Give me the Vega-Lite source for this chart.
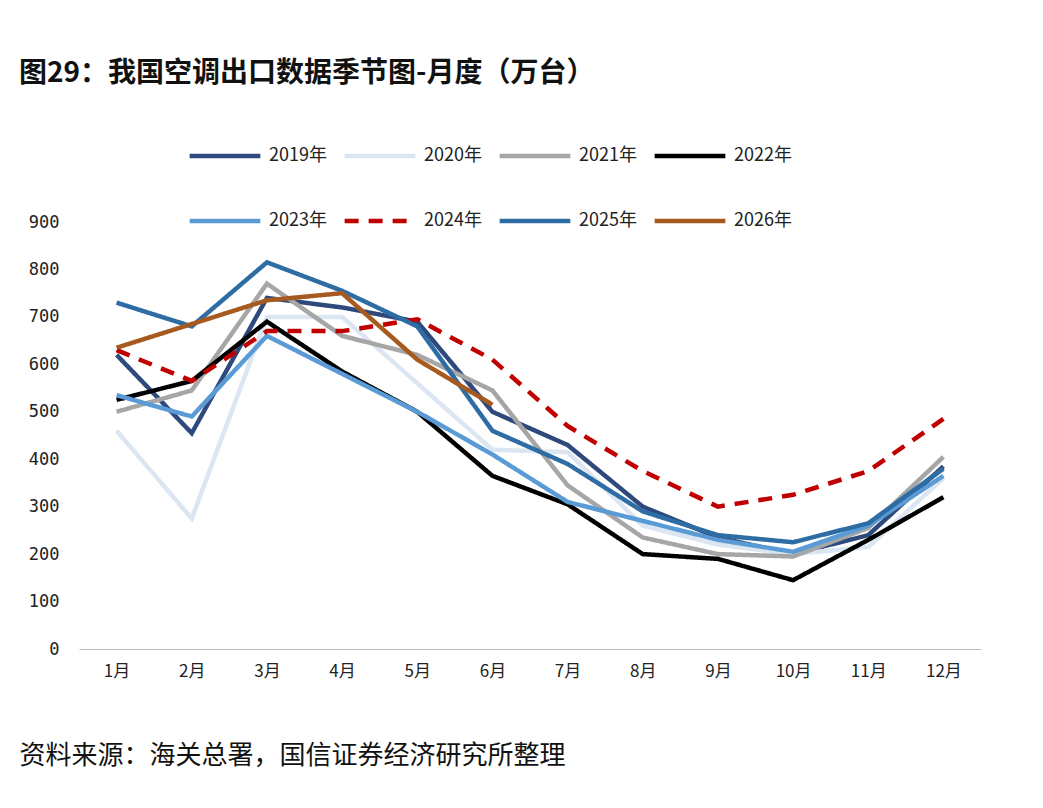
{
  "$schema": "https://vega.github.io/schema/vega-lite/v6.json",
  "autosize": "none",
  "padding": {"left": 79, "top": 222, "right": 62, "bottom": 159},
  "width": 902,
  "height": 427,
  "background": "white",
  "title": {
    "text": "图29：我国空调出口数据季节图-月度（万台）",
    "anchor": "start",
    "frame": "group",
    "dx": -60,
    "offset": 30,
    "fontSize": 28,
    "fontWeight": "bold",
    "font": "Noto Sans CJK SC",
    "color": "#111"
  },
  "data": {
    "values": [
      {"m": "1月", "s": "2019年", "v": 620}, {"m": "2月", "s": "2019年", "v": 455}, {"m": "3月", "s": "2019年", "v": 740}, {"m": "4月", "s": "2019年", "v": 720}, {"m": "5月", "s": "2019年", "v": 690}, {"m": "6月", "s": "2019年", "v": 500}, {"m": "7月", "s": "2019年", "v": 430}, {"m": "8月", "s": "2019年", "v": 300}, {"m": "9月", "s": "2019年", "v": 235}, {"m": "10月", "s": "2019年", "v": 200}, {"m": "11月", "s": "2019年", "v": 240}, {"m": "12月", "s": "2019年", "v": 385},
      {"m": "1月", "s": "2020年", "v": 460}, {"m": "2月", "s": "2020年", "v": 275}, {"m": "3月", "s": "2020年", "v": 700}, {"m": "4月", "s": "2020年", "v": 700}, {"m": "5月", "s": "2020年", "v": 560}, {"m": "6月", "s": "2020年", "v": 420}, {"m": "7月", "s": "2020年", "v": 415}, {"m": "8月", "s": "2020年", "v": 260}, {"m": "9月", "s": "2020年", "v": 220}, {"m": "10月", "s": "2020年", "v": 200}, {"m": "11月", "s": "2020年", "v": 215}, {"m": "12月", "s": "2020年", "v": 360},
      {"m": "1月", "s": "2021年", "v": 500}, {"m": "2月", "s": "2021年", "v": 545}, {"m": "3月", "s": "2021年", "v": 770}, {"m": "4月", "s": "2021年", "v": 660}, {"m": "5月", "s": "2021年", "v": 620}, {"m": "6月", "s": "2021年", "v": 545}, {"m": "7月", "s": "2021年", "v": 345}, {"m": "8月", "s": "2021年", "v": 235}, {"m": "9月", "s": "2021年", "v": 200}, {"m": "10月", "s": "2021年", "v": 195}, {"m": "11月", "s": "2021年", "v": 255}, {"m": "12月", "s": "2021年", "v": 405},
      {"m": "1月", "s": "2022年", "v": 525}, {"m": "2月", "s": "2022年", "v": 565}, {"m": "3月", "s": "2022年", "v": 690}, {"m": "4月", "s": "2022年", "v": 585}, {"m": "5月", "s": "2022年", "v": 500}, {"m": "6月", "s": "2022年", "v": 365}, {"m": "7月", "s": "2022年", "v": 305}, {"m": "8月", "s": "2022年", "v": 200}, {"m": "9月", "s": "2022年", "v": 190}, {"m": "10月", "s": "2022年", "v": 145}, {"m": "11月", "s": "2022年", "v": 230}, {"m": "12月", "s": "2022年", "v": 320},
      {"m": "1月", "s": "2023年", "v": 535}, {"m": "2月", "s": "2023年", "v": 490}, {"m": "3月", "s": "2023年", "v": 660}, {"m": "4月", "s": "2023年", "v": 580}, {"m": "5月", "s": "2023年", "v": 500}, {"m": "6月", "s": "2023年", "v": 410}, {"m": "7月", "s": "2023年", "v": 310}, {"m": "8月", "s": "2023年", "v": 270}, {"m": "9月", "s": "2023年", "v": 230}, {"m": "10月", "s": "2023年", "v": 205}, {"m": "11月", "s": "2023年", "v": 260}, {"m": "12月", "s": "2023年", "v": 365},
      {"m": "1月", "s": "2024年", "v": 630}, {"m": "2月", "s": "2024年", "v": 565}, {"m": "3月", "s": "2024年", "v": 670}, {"m": "4月", "s": "2024年", "v": 670}, {"m": "5月", "s": "2024年", "v": 695}, {"m": "6月", "s": "2024年", "v": 610}, {"m": "7月", "s": "2024年", "v": 470}, {"m": "8月", "s": "2024年", "v": 375}, {"m": "9月", "s": "2024年", "v": 300}, {"m": "10月", "s": "2024年", "v": 325}, {"m": "11月", "s": "2024年", "v": 375}, {"m": "12月", "s": "2024年", "v": 485},
      {"m": "1月", "s": "2025年", "v": 730}, {"m": "2月", "s": "2025年", "v": 680}, {"m": "3月", "s": "2025年", "v": 815}, {"m": "4月", "s": "2025年", "v": 755}, {"m": "5月", "s": "2025年", "v": 680}, {"m": "6月", "s": "2025年", "v": 460}, {"m": "7月", "s": "2025年", "v": 390}, {"m": "8月", "s": "2025年", "v": 290}, {"m": "9月", "s": "2025年", "v": 240}, {"m": "10月", "s": "2025年", "v": 225}, {"m": "11月", "s": "2025年", "v": 265}, {"m": "12月", "s": "2025年", "v": 380},
      {"m": "1月", "s": "2026年", "v": 635}, {"m": "2月", "s": "2026年", "v": 685}, {"m": "3月", "s": "2026年", "v": 735}, {"m": "4月", "s": "2026年", "v": 750}, {"m": "5月", "s": "2026年", "v": 610}, {"m": "6月", "s": "2026年", "v": 515}
    ]
  },
  "mark": {"type": "line", "strokeWidth": 4.5},
  "encoding": {
    "x": {
      "field": "m", "type": "ordinal", "sort": null,
      "scale": {"type": "point", "padding": 0.5},
      "title": "资料来源：海关总署，国信证券经济研究所整理",
      "axis": {
        "labelAngle": 0, "labelFontSize": 17, "labelPadding": 14, "ticks": false,
        "domainColor": "#bfbfbf", "labelColor": "#222", "labelFont": "Noto Sans CJK SC",
        "titleAnchor": "start", "titleX": -60, "titleY": 106, "titleFontSize": 26,
        "titleFontWeight": "normal", "titleFont": "Noto Sans CJK SC", "titleColor": "#111", "titleBaseline": "middle"
      }
    },
    "y": {
      "field": "v", "type": "quantitative",
      "scale": {"domain": [0, 900]},
      "title": null,
      "axis": {
        "values": [0, 100, 200, 300, 400, 500, 600, 700, 800, 900],
        "grid": false, "domain": false, "ticks": false, "labelFontSize": 17,
        "labelPadding": 20, "labelColor": "#222", "labelFont": "DejaVu Sans Mono"
      }
    },
    "color": {
      "field": "s", "type": "nominal", "title": null,
      "scale": {
        "domain": ["2019年", "2020年", "2021年", "2022年", "2023年", "2024年", "2025年", "2026年"],
        "range": ["#2E4A7D", "#DCE6F2", "#A6A6A6", "#000000", "#5B9BD5", "#C00000", "#2E6DA4", "#A65A1F"]
      },
      "legend": {
        "orient": "none", "legendX": 108, "legendY": -104, "columns": 4, "direction": "horizontal",
        "symbolType": "stroke", "symbolSize": 5000, "symbolStrokeWidth": 4.5,
        "labelFontSize": 18, "labelColor": "#222", "labelFont": "Noto Sans CJK SC",
        "columnPadding": 8, "rowPadding": 18, "labelOffset": 6
      }
    },
    "strokeDash": {
      "field": "s", "type": "nominal", "title": null,
      "scale": {
        "domain": ["2019年", "2020年", "2021年", "2022年", "2023年", "2024年", "2025年", "2026年"],
        "range": [[1, 0], [1, 0], [1, 0], [1, 0], [1, 0], [14, 10], [1, 0], [1, 0]]
      }
    },
    "order": {"field": "s"}
  },
  "config": {"view": {"stroke": null}}
}
